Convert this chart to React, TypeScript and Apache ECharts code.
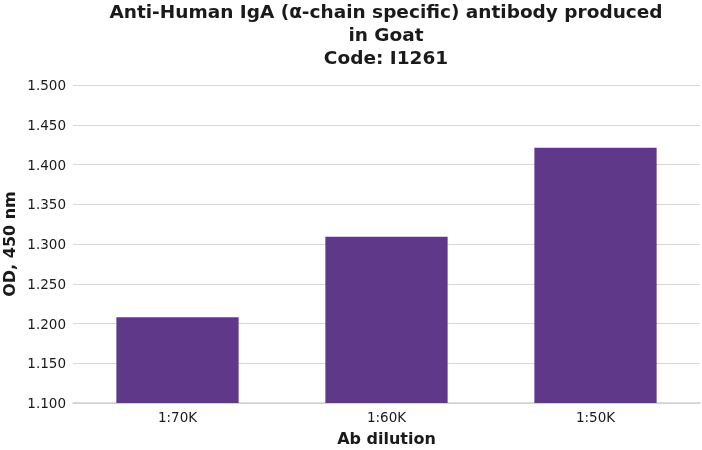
import React, { useEffect, useRef } from "react";
import * as echarts from "echarts";

const categories = ["1:70K", "1:60K", "1:50K"];
const values = [1.208, 1.309, 1.421];
const titleLines = [
  "Anti-Human IgA (\u03b1-chain specific) antibody produced",
  "in Goat",
  "Code: I1261",
];

export default function App() {
  const ref = useRef<HTMLDivElement>(null);
  useEffect(() => {
    const chart = echarts.init(ref.current!, null, { renderer: "svg" });
    chart.setOption({
      animation: false,
      title: {
        text: titleLines.join("\n"),
        left: 386,
        textAlign: "center",
        top: 0,
        padding: 0,
        textStyle: {
          fontFamily: "DejaVu Sans",
          fontWeight: "bold",
          fontSize: 18.5,
          lineHeight: 23,
          color: "#1a1a1a",
        },
      },
      grid: { left: 73, right: 2, top: 85, bottom: 47, outerBoundsMode: "none" },
      xAxis: {
        type: "category",
        data: categories,
        name: "Ab dilution",
        nameLocation: "middle",
        nameGap: 27,
        nameMoveOverlap: false,
        nameTextStyle: {
          fontFamily: "DejaVu Sans",
          fontWeight: "bold",
          fontSize: 16,
          color: "#1a1a1a",
        },
        axisLine: { lineStyle: { color: "#d0d0d0", width: 1.5 } },
        axisTick: { show: false },
        axisLabel: {
          fontFamily: "DejaVu Sans",
          fontSize: 13.5,
          color: "#1a1a1a",
          margin: 7,
        },
      },
      yAxis: {
        type: "value",
        min: 1.1,
        max: 1.5,
        interval: 0.05,
        name: "OD, 450 nm",
        nameLocation: "middle",
        nameGap: 56,
        nameMoveOverlap: false,
        nameTextStyle: {
          fontFamily: "DejaVu Sans",
          fontWeight: "bold",
          fontSize: 16,
          color: "#1a1a1a",
        },
        axisLine: { show: false },
        axisTick: { show: false },
        splitLine: { lineStyle: { color: "#d9d9d9", width: 1 } },
        axisLabel: {
          fontFamily: "DejaVu Sans",
          fontSize: 13.5,
          color: "#1a1a1a",
          margin: 7,
          formatter: (v: number) => v.toFixed(3),
        },
      },
      series: [
        {
          type: "bar",
          data: values,
          barWidth: "58.5%",
          itemStyle: { color: "#60388a" },
        },
      ],
    });
    return () => chart.dispose();
  }, []);
  return (
    <div
      ref={ref}
      style={{ position: "fixed", left: 0, top: 0, width: 702, height: 450 }}
    />
  );
}
